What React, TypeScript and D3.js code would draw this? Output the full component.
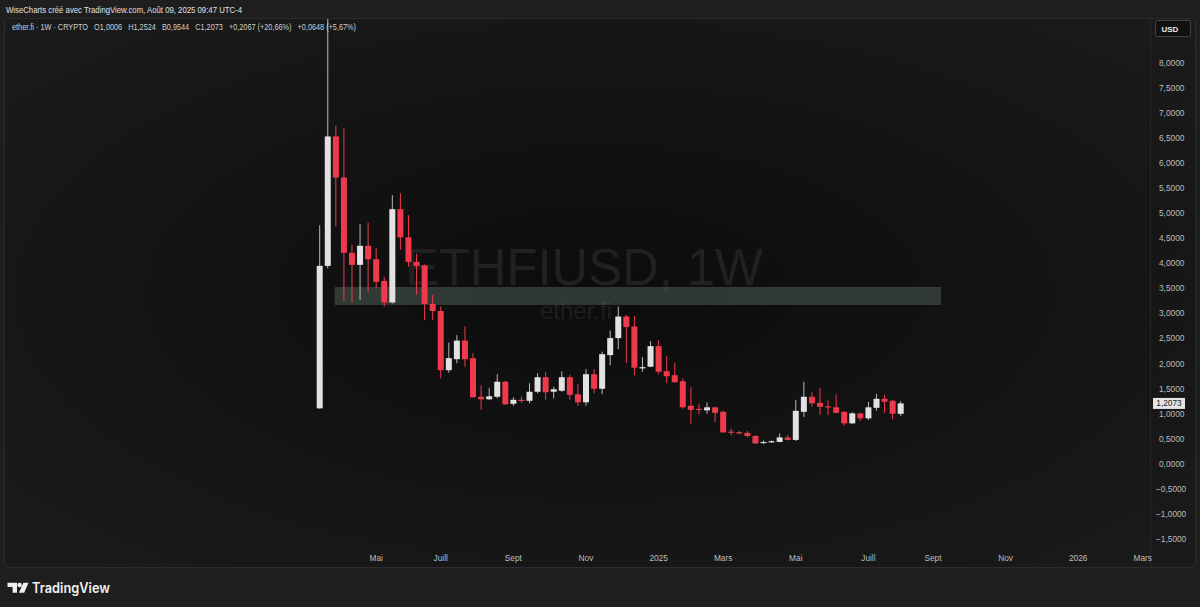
import * as d3 from 'd3'

// ── data ─────────────────────────────────────────────────────────────────────
const FIRST_WEEK = new Date(2024, 2, 18)
const LAST_WEEK  = new Date(2025, 7, 4)

const OPEN = [
  1.11, 3.95, 6.53, 5.71, 4.21, 3.97, 4.35, 4.08, 3.65, 3.22,
  5.08, 4.52, 4.03, 3.96, 3.19, 3.05, 1.87, 2.09, 2.46, 2.11,
  1.34, 1.29, 1.34, 1.64, 1.20, 1.28, 1.26, 1.44, 1.73, 1.44,
  1.46, 1.73, 1.39, 1.23, 1.79, 1.50, 2.17, 2.51, 2.94, 2.74,
  1.91, 1.94, 2.35, 1.85, 1.77, 1.65, 1.16, 1.10, 1.07, 1.13,
  1.04, 0.645, 0.635, 0.62, 0.56, 0.42, 0.44, 0.44, 0.53, 0.48,
  1.04, 1.34, 1.22, 1.15, 1.13, 1.04, 0.81, 1.01, 0.91, 1.12,
  1.30, 1.26, 1.0006,
]
const HIGH = [
  4.76, 8.95, 6.74, 6.69, 4.37, 4.78, 4.81, 4.30, 3.73, 5.36,
  5.40, 4.96, 4.19, 3.98, 3.37, 3.14, 2.42, 2.57, 2.74, 2.21,
  1.57, 1.52, 1.79, 1.66, 1.33, 1.35, 1.61, 1.81, 1.83, 1.54,
  1.85, 1.78, 1.59, 1.89, 1.89, 2.24, 2.66, 3.14, 2.97, 2.95,
  2.13, 2.45, 2.47, 2.15, 2.02, 1.71, 1.53, 1.20, 1.23, 1.14,
  1.06, 0.70, 0.66, 0.66, 0.57, 0.47, 0.47, 0.61, 0.58, 1.28,
  1.64, 1.43, 1.51, 1.27, 1.39, 1.05, 1.03, 1.02, 1.24, 1.40,
  1.38, 1.28, 1.2524,
]
const LOW = [
  1.10, 3.90, 4.74, 3.24, 3.22, 3.27, 3.44, 3.50, 3.14, 3.20,
  4.27, 3.93, 3.38, 2.87, 2.87, 1.71, 1.82, 2.01, 1.94, 1.32,
  1.08, 1.28, 1.31, 1.18, 1.16, 1.22, 1.21, 1.41, 1.28, 1.31,
  1.44, 1.28, 1.16, 1.16, 1.41, 1.39, 1.97, 2.29, 2.01, 1.77,
  1.84, 1.93, 1.79, 1.62, 1.62, 1.10, 0.80, 0.99, 1.00, 0.84,
  0.62, 0.57, 0.59, 0.53, 0.40, 0.40, 0.42, 0.43, 0.47, 0.46,
  0.94, 1.14, 0.98, 0.98, 1.01, 0.76, 0.80, 0.86, 0.88, 1.06,
  1.02, 0.89, 0.9544,
]
const CLOSE = [
  3.95, 6.53, 5.71, 4.21, 3.97, 4.35, 4.08, 3.63, 3.22, 5.08,
  4.52, 4.03, 3.95, 3.19, 3.05, 1.87, 2.11, 2.46, 2.09, 1.33,
  1.29, 1.35, 1.64, 1.19, 1.28, 1.27, 1.44, 1.73, 1.43, 1.49,
  1.73, 1.38, 1.23, 1.79, 1.50, 2.19, 2.51, 2.94, 2.73, 1.92,
  1.93, 2.35, 1.84, 1.75, 1.63, 1.13, 1.08, 1.09, 1.13, 1.02,
  0.63, 0.635, 0.625, 0.56, 0.41, 0.44, 0.455, 0.53, 0.48, 1.06,
  1.34, 1.21, 1.14, 1.14, 1.02, 0.81, 1.01, 0.91, 1.13, 1.30,
  1.24, 1.0006, 1.2073,
]

const ZONE_START = new Date(2024, 2, 31)
const ZONE_END   = new Date(2025, 8, 8)
const ZONE_LOW   = 3.17
const ZONE_HIGH  = 3.53

const Y_TICKS = [-1.5, -1, -0.5, 0, 0.5, 1, 1.5, 2, 2.5, 3, 3.5, 4, 4.5, 5, 5.5, 6, 6.5, 7, 7.5, 8]
const X_TICK_MONTHS: [number, number][] = [
  [2024, 4], [2024, 6], [2024, 8], [2024, 10], [2025, 0], [2025, 2],
  [2025, 4], [2025, 6], [2025, 8], [2025, 10], [2026, 0], [2026, 2],
]
const X_TICK_LABELS = ['Mai', 'Juill', 'Sept', 'Nov', '2025', 'Mars', 'Mai', 'Juill', 'Sept', 'Nov', '2026', 'Mars']

const LAST_PRICE = 1.2073
const HEADER = 'WiseCharts créé avec TradingView.com, Août 09, 2025 09:47 UTC-4'
const LEGEND = 'ether.fi · 1W · CRYPTO   O1,0006   H1,2524   B0,9544   C1,2073   +0,2067 (+20,66%)   +0,0648 (+5,67%)'

// ── constants ────────────────────────────────────────────────────────────────
const W = 1200
const H = 607
const PLOT = { left: 5, top: 19, right: 1150, bottom: 548 }
const C_UP    = '#e2e2e2'
const C_UPW   = '#b8b8b8'
const C_DOWN  = '#ef3a4c'
const C_TXT   = '#bdbdbd'
const FONT    = '"Liberation Sans", Arial, sans-serif'

const fmt = (v: number) => d3.format('.4f')(Math.abs(v)).replace('.', ',')
const fmtTick = (v: number) => (v < 0 ? '\u2212' : '') + fmt(v)

export default function App() {
  const weeks = d3.timeMonday.range(FIRST_WEEK, d3.timeDay.offset(LAST_WEEK, 1))
  const x = d3.scaleTime().domain([FIRST_WEEK, LAST_WEEK]).range([319.7, 900.7])
  const y = d3.scaleLinear().domain([0, 8]).range([464, 62.7])
  const bw = 6

  const candles = weeks.map((d, i) => ({
    date: d, o: OPEN[i], h: HIGH[i], l: LOW[i], c: CLOSE[i],
  }))

  const xTicks = X_TICK_MONTHS.map(([yr, m]) => d3.timeMonday.ceil(new Date(yr, m, 1)))

  return (
    <div style={{ position: 'absolute', left: 0, top: 0 }}>
      <svg width={W} height={H} style={{ display: 'block' }} fontFamily={FONT}>
        <defs>
          <radialGradient id="bg" cx="50%" cy="50%" r="70%">
            <stop offset="0%" stopColor="#0c0c0c" />
            <stop offset="100%" stopColor="#1b1b1b" />
          </radialGradient>
          <clipPath id="plot">
            <rect x={PLOT.left} y={PLOT.top} width={PLOT.right - PLOT.left} height={PLOT.bottom - PLOT.top} />
          </clipPath>
        </defs>

        {/* frame */}
        <rect width={W} height={H} fill="#1e1e1e" />
        <rect x={4.5} y={18.5} width={1191} height={549} rx={3} fill="url(#bg)" stroke="#2c2c2c" />
        <line x1={1150.5} x2={1150.5} y1={19} y2={567} stroke="#262626" />

        <text x={6} y={13} fontSize={8.5} fill="#e0e0e0" textLength={236} lengthAdjust="spacingAndGlyphs">{HEADER}</text>

        {/* watermark */}
        <g fontFamily={FONT} textAnchor="middle">
          <text x={584} y={285} fontSize={51} fill="#212121" textLength={358} lengthAdjust="spacingAndGlyphs">ETHFIUSD, 1W</text>
          <text x={576} y={319} fontSize={24} fill="#1f1f1f">ether.fi</text>
        </g>

        <g clipPath="url(#plot)">
          {/* zone */}
          <rect
            x={x(ZONE_START)} width={x(ZONE_END) - x(ZONE_START)}
            y={y(ZONE_HIGH)} height={y(ZONE_LOW) - y(ZONE_HIGH)}
            fill="rgba(92,108,98,0.45)"
          />

          {/* candles */}
          {candles.map((d, i) => {
            const up = d.c >= d.o
            const cx = x(d.date)
            const top = y(Math.max(d.o, d.c))
            const bot = y(Math.min(d.o, d.c))
            return (
              <g key={i}>
                <line x1={cx} x2={cx} y1={y(d.h)} y2={y(d.l)} stroke={up ? C_UPW : C_DOWN} strokeWidth={1} />
                <rect x={cx - bw / 2} y={top} width={bw} height={Math.max(1.2, bot - top)} fill={up ? C_UP : C_DOWN} />
              </g>
            )
          })}
        </g>

        <text x={12} y={30} fontSize={8.3} fill="#cfcfcf" style={{ whiteSpace: 'pre' }} textLength={344} lengthAdjust="spacingAndGlyphs">{LEGEND}</text>

        {/* price axis */}
        <g fontSize={8.3} fill={C_TXT}>
          {Y_TICKS.map(v => (
            <text key={v} x={v < 0 ? 1156 : 1159} y={y(v)} dy="0.35em">{fmtTick(v)}</text>
          ))}
        </g>
        <rect x={1155.5} y={20.5} width={35} height={16} rx={2} fill="#111" stroke="#444" />
        <text x={1161.5} y={31.5} fontSize={8} fill="#e8e8e8" fontWeight={700}>USD</text>

        <rect x={1153} y={y(LAST_PRICE) - 5.5} width={32} height={11} fill="#e4e4e4" />
        <text x={1169} y={y(LAST_PRICE)} dy="0.35em" fontSize={8.3} fill="#222" textAnchor="middle">{fmt(LAST_PRICE)}</text>

        {/* time axis */}
        <g fontSize={8.3} fill={C_TXT} textAnchor="middle">
          {xTicks.map((d, i) => (
            <text key={i} x={x(d)} y={558} dy="0.35em">{X_TICK_LABELS[i]}</text>
          ))}
        </g>

        {/* TradingView logo */}
        <g fill="#f0f0f0">
          <path d="M7.5 582.8 H17 V592.7 H12.6 V587 H7.5 Z" />
          <circle cx={19.6} cy={585} r={2.2} />
          <path d="M23.3 582.8 H28.5 L24.2 592.7 H18.9 Z" />
          <text x={32} y={592.6} fontSize={14} fontWeight={600} fontFamily='Inter, "Open Sans", sans-serif' textLength={78} lengthAdjust="spacingAndGlyphs">TradingView</text>
        </g>
      </svg>
    </div>
  )
}
